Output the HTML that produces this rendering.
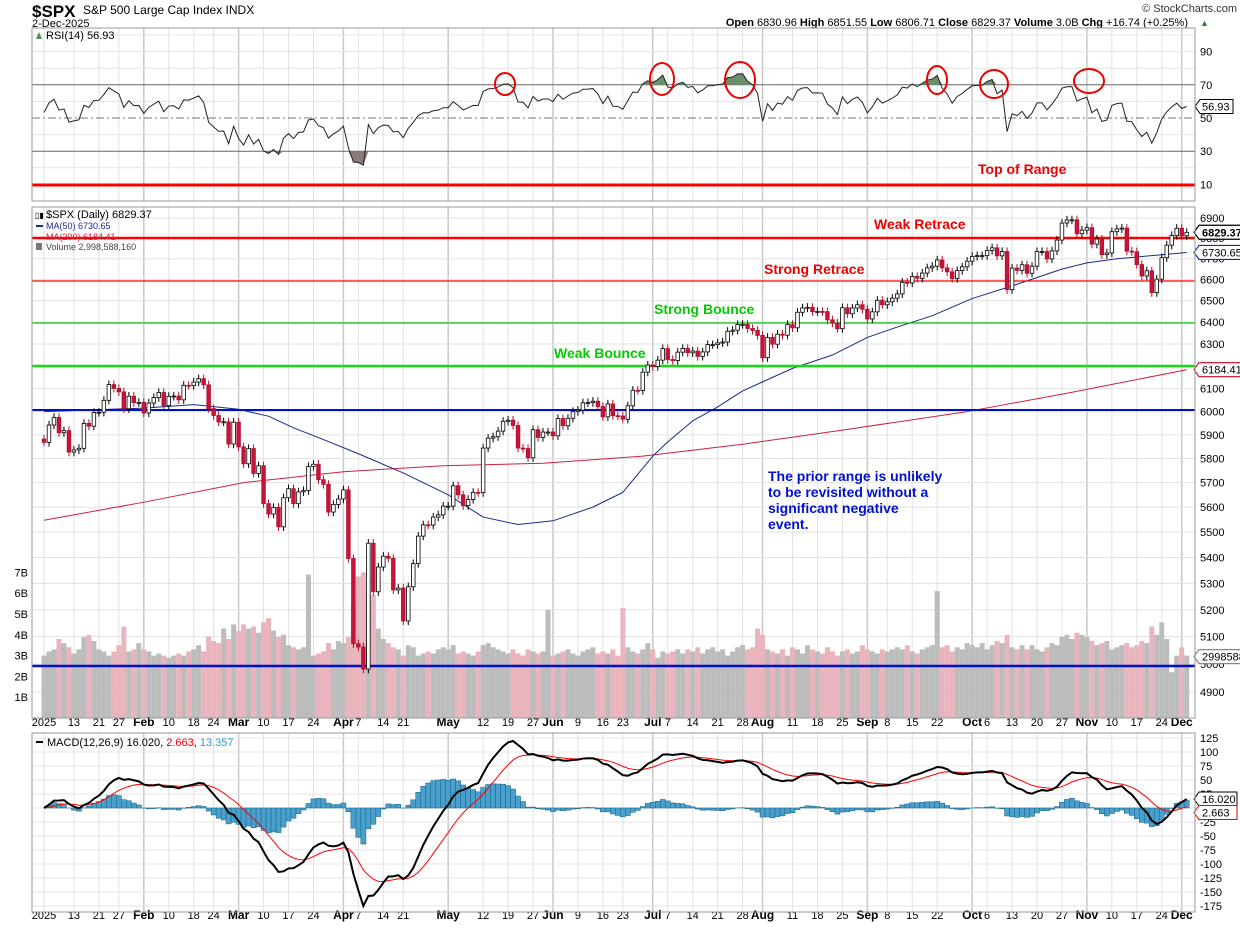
<!DOCTYPE html>
<html><head><meta charset="utf-8">
<style>
html,body{margin:0;padding:0;background:#fff;}
svg{display:block;font-family:"Liberation Sans",sans-serif;}
</style></head>
<body>
<svg id="chart" width="1240" height="928" xmlns="http://www.w3.org/2000/svg">
  <text x="32" y="17" font-size="17" font-weight="bold">$SPX</text>
  <text x="83" y="14" font-size="12">S&amp;P 500 Large Cap Index  INDX</text>
  <text x="32" y="27" font-size="11">2-Dec-2025</text>
  <text x="1237" y="12" font-size="11" text-anchor="end" fill="#333">© StockCharts.com</text>
  <text x="1188" y="26" font-size="11" text-anchor="end"><tspan font-weight="bold">Open</tspan> 6830.96 <tspan font-weight="bold">High</tspan> 6851.55 <tspan font-weight="bold">Low</tspan> 6806.71 <tspan font-weight="bold">Close</tspan> 6829.37 <tspan font-weight="bold">Volume</tspan> 3.0B <tspan font-weight="bold">Chg</tspan> +16.74 (+0.25%)</text>
  <text x="1200" y="26" font-size="9" fill="#2a8a2a">▲</text>
  <g id="g"></g>
</svg>
<script>
// ---- data ----
const closes=[
5868,5942,5975,5909,5918,5827,5836,5843,5949,5937,5996,5997,6049,6118,6101,6086,6012,6067,6039,6040,
5994,6037,6061,6083,6026,6066,6068,6051,6115,6114,6129,6144,6117,6013,5983,5955,5956,5861,5954,
5849,5778,5842,5738,5770,5614,5572,5599,5521,5638,5675,5614,5662,5667,5767,5776,5712,5693,5580,5611,5633,
5670,5396,5074,5062,4982,5456,5268,5363,5405,5397,5275,5282,5158,5287,5376,5484,5529,5528,5560,5569,5604,
5604,5687,5650,5606,5631,5660,5659,5844,5886,5892,5916,5958,5963,5940,5844,5842,5803,5922,5889,5912,5912,
5896,5970,5939,5971,6000,6006,6038,6039,6045,6022,5977,6033,5982,5981,5967,6025,6093,6092,6173,6205,
6198,6227,6279,6230,6225,6263,6280,6260,6268,6244,6264,6297,6297,6305,6309,6358,6363,6389,6390,6371,6362,6339,
6238,6330,6299,6345,6340,6389,6374,6446,6466,6469,6449,6450,6449,6411,6396,6370,6467,6439,6466,6481,6460,
6415,6448,6502,6481,6495,6512,6532,6587,6584,6615,6606,6631,6656,6664,6694,6656,6637,6605,6643,6661,6688,
6711,6715,6715,6740,6753,6714,6735,6552,6655,6644,6671,6630,6664,6735,6735,6699,6738,6791,6875,6890,6891,6822,6840,
6852,6771,6796,6720,6728,6832,6846,6850,6737,6734,6672,6617,6642,6538,6602,6705,6766,6813,6849,
6812,6829];
const volumes=[
3.0,3.2,3.3,3.8,3.6,3.4,3.1,3.3,3.9,4.0,3.7,3.3,3.2,3.0,3.2,3.5,4.4,3.2,3.3,3.6,
3.3,3.2,3.0,3.1,3.0,2.9,3.0,3.1,3.0,3.2,3.3,3.5,3.2,3.9,3.7,3.6,4.3,3.8,4.5,
4.2,4.5,4.3,4.4,4.1,4.6,4.8,4.2,3.9,4.0,3.5,3.4,3.3,3.4,6.9,3.0,3.1,3.2,3.6,3.3,3.7,
3.6,3.9,5.5,6.8,7.0,6.0,5.9,4.3,3.8,3.6,3.4,3.3,3.0,3.5,3.4,3.0,3.1,3.2,3.1,3.3,3.4,
3.3,3.5,3.1,3.2,3.1,3.0,3.2,3.5,3.6,3.4,3.3,3.2,3.1,3.3,3.1,3.0,3.3,3.2,3.1,3.2,5.2,
3.0,3.1,3.2,3.3,3.1,3.0,3.2,3.3,3.4,3.1,3.2,3.1,3.3,3.0,5.3,3.4,3.2,3.1,3.3,3.6,
3.3,2.9,3.2,3.1,3.2,3.3,3.1,3.3,3.2,3.4,3.1,3.3,3.4,3.2,3.3,3.0,3.2,3.4,3.5,3.3,3.4,4.3,
4.0,3.3,3.2,3.1,3.3,3.0,3.4,3.3,3.1,3.5,3.3,3.2,3.1,3.4,3.2,3.0,3.2,3.3,3.1,3.2,3.5,
3.3,3.2,3.1,3.3,3.2,3.3,3.4,3.3,3.5,3.2,3.1,3.3,3.4,3.5,6.1,3.4,3.5,3.2,3.4,3.3,3.6,
3.5,3.4,3.6,3.3,3.5,3.7,3.6,4.0,3.4,3.3,3.5,3.3,3.5,3.3,3.2,3.4,3.6,3.5,3.9,4.0,3.8,4.1,4.0,
3.9,3.7,3.5,3.6,3.7,3.3,3.4,3.5,3.6,3.4,3.5,3.7,3.6,4.4,4.0,4.6,3.8,2.2,3.0,
3.4,3.0];
const ma50Idx=[0,20,30,39,45,50,56,63,72,81,88,95,102,110,116,122,125,130,135,140,144,150,158,165,170,178,186,194,199,204,209,215,222,229];
const ma50Val=[6000,6015,6030,6010,5980,5930,5880,5820,5740,5650,5560,5530,5545,5600,5660,5810,5870,5960,6020,6090,6130,6190,6250,6330,6370,6430,6510,6570,6610,6650,6680,6700,6715,6730];
const ma200Idx=[0,20,40,60,80,100,120,140,160,185,205,229];
const ma200Val=[5547,5620,5700,5745,5770,5780,5810,5860,5920,6000,6080,6184];
const dateTickIdx=[0,6,11,15,20,25,30,34,39,44,49,54,60,63,68,72,81,88,93,98,102,107,112,116,122,125,130,135,140,144,150,155,160,165,169,174,179,186,189,194,199,204,209,214,219,224,228];
const dateTickLbl=["2025","13","21","27","Feb","10","18","24","Mar","10","17","24","Apr","7","14","21","May","12","19","27","Jun","9","16","23","Jul","7","14","21","28","Aug","11","18","25","Sep","8","15","22","Oct","6","13","20","27","Nov","10","17","24","Dec"];
const priceTicks=[6900,6800,6700,6600,6500,6400,6300,6200,6100,6000,5900,5800,5700,5600,5500,5400,5300,5200,5100,5000,4900];
const volTicks=[1,2,3,4,5,6,7];
const rsiTicks=[10,30,50,70,90];
const macdTicks=[125,100,75,50,25,0,-25,-50,-75,-100,-125,-150,-175];

// ---- scales ----
const L=32,R=1195;
const X=i=>44+i*4.99;
const PY=p=>218-1385*Math.log(p/6900);
const VY=v=>718-v*20.8;
const RY=v=>118-(v-50)*1.66;
const MY=v=>808-v*0.56;
const NS="http://www.w3.org/2000/svg";
const g=document.getElementById('g');
function el(tag,attrs,parent){const e=document.createElementNS(NS,tag);for(const k in attrs)e.setAttribute(k,attrs[k]);(parent||g).appendChild(e);return e;}
function txt(x,y,s,attrs){const e=el('text',Object.assign({x:x,y:y,'font-size':11},attrs||{}));e.textContent=s;return e;}

// panels
const panels=[[28,201],[207,718],[733,912]];
panels.forEach((p,k)=>{
  const r=el('rect',{x:L,y:p[0],width:R-L,height:p[1]-p[0],fill:'#fff',stroke:'none'});
  
  
  dateTickIdx.forEach((d,j)=>{
    const month=isNaN(+dateTickLbl[j]);
    el('line',{x1:X(d),x2:X(d),y1:p[0],y2:p[1],stroke:month?'#c8c8c8':'#e2e2e2','stroke-width':month?1.5:1});
  });
});
// RSI grid
for(let v=10;v<=100;v+=10){if([30,50,70].includes(v))continue;el('line',{x1:L,x2:R,y1:RY(v),y2:RY(v),stroke:'#e4e4e4'});}
rsiTicks.forEach(v=>{const t=txt(1200,RY(v)+4,String(v));});
el('line',{x1:L,x2:R,y1:RY(70),y2:RY(70),stroke:'#666'});
el('line',{x1:L,x2:R,y1:RY(30),y2:RY(30),stroke:'#666'});
el('line',{x1:L,x2:R,y1:RY(50),y2:RY(50),stroke:'#777','stroke-dasharray':'8,3,2,3'});

// RSI compute
const rsi=[];let ag=closes[0]*0.004,al=closes[0]*0.0035;
for(let i=0;i<closes.length;i++){
  const ch=i?closes[i]-closes[i-1]:0;
  ag=(ag*13+Math.max(ch,0))/14;al=(al*13+Math.max(-ch,0))/14;
  rsi.push(100-100/(1+ag/al));
}
let fillO='',fillU='';
for(let i=1;i<rsi.length;i++){
  if(rsi[i]>70||rsi[i-1]>70){const a=Math.max(rsi[i-1],70),b=Math.max(rsi[i],70);fillO+=`M${X(i-1)},${RY(70)}L${X(i-1)},${RY(a)}L${X(i)},${RY(b)}L${X(i)},${RY(70)}Z`;}
  if(rsi[i]<30||rsi[i-1]<30){const a=Math.min(rsi[i-1],30),b=Math.min(rsi[i],30);fillU+=`M${X(i-1)},${RY(30)}L${X(i-1)},${RY(a)}L${X(i)},${RY(b)}L${X(i)},${RY(30)}Z`;}
}
if(fillO){const f=el('path',{d:fillO,fill:'#6b8f6b'});}
if(fillU){const f=el('path',{d:fillU,fill:'#8a7a7a'});}
const rsiLine=el('polyline',{points:rsi.map((v,i)=>X(i)+','+RY(v)).join(' '),fill:'none',stroke:'#222','stroke-width':1});


[[505,84,10,11],[662,79,12,16],[740,80,15,18],[937,80,10,14],[994,84,14,14],[1089,81,15,12]].forEach(c=>{
  const e=el('ellipse',{cx:c[0],cy:c[1],rx:c[2],ry:c[3],fill:'none',stroke:'#e00','stroke-width':2});
  
  
});
{const t=txt(46,39,'RSI(14) 56.93',{'font-size':11});}
el('path',{d:'M36,39 L39,32 L42,39 Z',fill:'#5a8a5a'});
{const lv=rsi[rsi.length-1];const b=el('path',{d:`M${R},${RY(lv)} l5,-7 h33 v14 h-33 z`,fill:'#fff',stroke:'#000'});txt(1202,RY(lv)+4,'56.93');}

// price grid
priceTicks.forEach(p=>{el('line',{x1:L,x2:R,y1:PY(p),y2:PY(p),stroke:'#e2e2e2'});
 const t=txt(1200,PY(p)+4,String(p));});
volTicks.forEach(v=>{const t=txt(28,VY(v)+4,v+'B',{'text-anchor':'end'});});

// volume bars
closes.forEach((c,i)=>{
  const down=i>0&&c<closes[i-1];
  const b=el('rect',{x:X(i)-2.5,y:VY(volumes[i]),width:5,height:718-VY(volumes[i]),fill:down?'#e9b4bc':'#bcbcbc'});
  
  
});
function maLine(idx,val,color,name){const e=el('polyline',{points:idx.map((d,j)=>X(d)+','+PY(val[j])).join(' '),fill:'none',stroke:color,'stroke-width':1,'stroke-linejoin':'round'});}
maLine(ma200Idx,ma200Val,'#d0203a','ma200-line');
maLine(ma50Idx,ma50Val,'#1a2a8c','ma50-line');

[[185,3,'#f00','top-of-range-line'],[238,2.5,'#f00','weak-retrace-line'],[281,1.2,'#f00','strong-retrace-line'],[323,1.2,'#0c0','strong-bounce-line'],[366,2.5,'#1d1','weak-bounce-line'],[410,2,'#0010c8','prior-range-line'],[666,2.5,'#0010c8','volume-baseline-line']].forEach(l=>{
  const e=el('line',{x1:L,x2:R,y1:l[0],y2:l[0],stroke:l[2],'stroke-width':l[1]});
  
  
});

// candles
closes.forEach((c,i)=>{
  const o=i?closes[i-1]:5882;
  const hi=Math.max(o,c)*1.003,lo=Math.min(o,c)*0.997;
  const up=c>=o;
  const w=el('line',{x1:X(i),x2:X(i),y1:PY(hi),y2:PY(lo),stroke:up?'#000':'#b0102c'});
  
  
  const top=PY(Math.max(o,c)),bot=PY(Math.min(o,c));
  const b=el('rect',{x:X(i)-1.8,y:top,width:3.6,height:Math.max(1,bot-top),fill:up?'#fff':'#c8143a',stroke:up?'#000':'#b0102c','stroke-width':0.8});
  
  
});

txt(46,218,'$SPX (Daily) 6829.37',{'font-size':11});
txt(35,218,'▯▮',{'font-size':8});
txt(46,229,'MA(50) 6730.65',{'font-size':9,fill:'#1a2a8c'});
el('rect',{x:36,y:225,width:7,height:2,fill:'#1a2a8c'});
txt(46,240,'MA(200) 6184.41',{'font-size':9,fill:'#d0203a'});
txt(46,250,'Volume 2,998,588,160',{'font-size':9,fill:'#444'});
el('rect',{x:36,y:243,width:6,height:7,fill:'#777'});

function tag(y,s,color,bold,name){const e=el('path',{d:`M${R-1},${y} l5,-7 h48 v14 h-48 z`,fill:'#fff',stroke:color,'stroke-width':1.2});txt(1202,y+4,s,{'font-weight':bold?'bold':'normal','font-size':11});}
tag(PY(6829.37),'6829.37','#000',true,'close-value-tag');
tag(PY(6730.65),'6730.65','#1a2a8c',false,'ma50-value-tag');
tag(PY(6184.41),'6184.41','#d0203a',false,'ma200-value-tag');
tag(VY(3.0)+1,'2998588','#888',false,'volume-value-tag');

function ann(x,y,s,c,name){const t=txt(x,y,s,{'font-size':14,'font-weight':'bold',fill:c});}
ann(978,174,'Top of Range','#e00','top-of-range-label');
ann(874,229,'Weak Retrace','#e00','weak-retrace-label');
ann(764,274,'Strong Retrace','#e00','strong-retrace-label');
ann(654,314,'Strong Bounce','#0c0','strong-bounce-label');
ann(554,358,'Weak Bounce','#0c0','weak-bounce-label');
['The prior range is unlikely','to be revisited without a','significant negative','event.'].forEach((s,k)=>ann(768,481+k*16,s,'#0010d0','prior-range-note'));

[726,919].forEach(y=>{dateTickIdx.forEach((d,j)=>{
  const month=isNaN(+dateTickLbl[j]);
  const t=txt(X(d),y,dateTickLbl[j],{'text-anchor':'middle','font-size':month?12:11,'font-weight':month?'bold':'normal'});
  
  
});});

// MACD
const ema=(arr,n)=>{const k=2/(n+1);const out=[];arr.forEach((v,i)=>out.push(i?v*k+out[i-1]*(1-k):v));return out;};
const e12=ema(closes,12),e26=ema(closes,26);
const macd=e12.map((v,i)=>v-e26[i]);
const sig=ema(macd,9);
macdTicks.forEach(v=>{el('line',{x1:L,x2:R,y1:MY(v),y2:MY(v),stroke:'#e4e4e4'});
 const t=txt(1200,MY(v)+4,String(v));});
macd.forEach((m,i)=>{
  const h=m-sig[i];
  const b=el('rect',{x:X(i)-2.5,y:Math.min(MY(h),MY(0)),width:5,height:Math.abs(MY(h)-MY(0)),fill:'#4aa0cc',stroke:'#1e6a90','stroke-width':0.6});
  
  
});
{const s=el('polyline',{points:sig.map((v,i)=>X(i)+','+MY(v)).join(' '),fill:'none',stroke:'#f00','stroke-width':1});}
{const s=el('polyline',{points:macd.map((v,i)=>X(i)+','+MY(v)).join(' '),fill:'none',stroke:'#000','stroke-width':2});}
el('rect',{x:36,y:741,width:7,height:2,fill:'#000'});
{const t=el('text',{x:47,y:746,'font-size':11});t.innerHTML='MACD(12,26,9) 16.020, <tspan fill="#e00">2.663</tspan>, <tspan fill="#3399cc">13.357</tspan>';}
{const e=el('path',{d:`M${R-1},${MY(16)} l5,-7 h38 v14 h-38 z`,fill:'#fff',stroke:'#000'});txt(1202,MY(16)+4,'16.020');}
{const e=el('path',{d:`M${R-1},${MY(2.7)+6} l5,-7 h38 v14 h-38 z`,fill:'#fff',stroke:'#e00'});txt(1202,MY(2.7)+10,'2.663');}

panels.forEach(p=>el('rect',{x:L,y:p[0],width:R-L,height:p[1]-p[0],fill:'none',stroke:'#999'}));
</script>
</body></html>
